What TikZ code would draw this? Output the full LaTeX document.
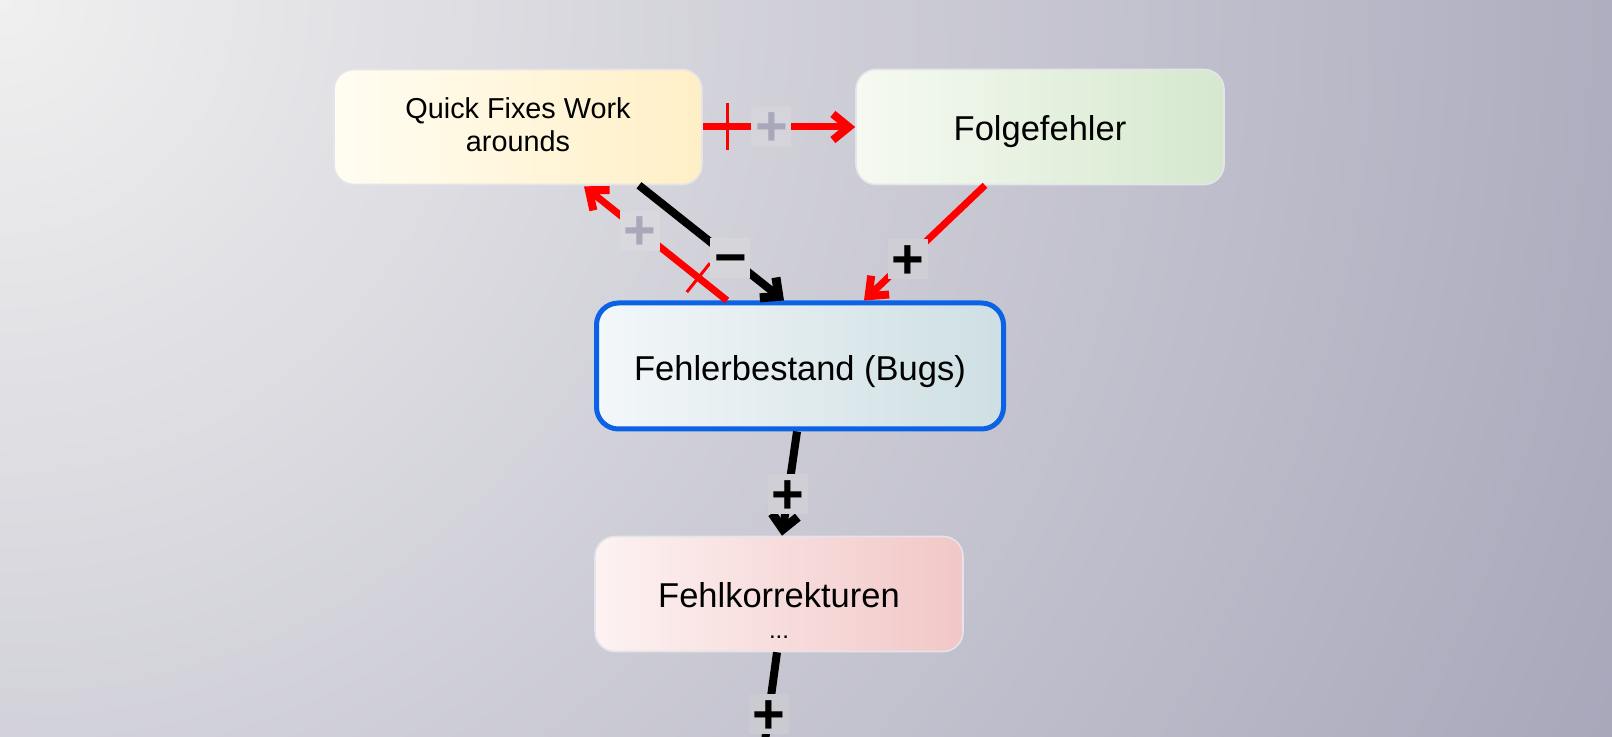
\documentclass[tikz,border=0pt]{standalone}
\usepackage{fontspec}
\setmainfont{Liberation Sans}
\usepackage{xcolor}
\usetikzlibrary{arrows.meta,calc}

\definecolor{bgLight}{HTML}{F0F0F0}
\definecolor{bgDark}{HTML}{A7A6BA}
\definecolor{qfL}{HTML}{FFFDF2}
\definecolor{qfR}{HTML}{FFEFC6}
\definecolor{foL}{HTML}{F6FAF2}
\definecolor{foR}{HTML}{D5E8CE}
\definecolor{fbL}{HTML}{F3F7F9}
\definecolor{fbR}{HTML}{CEDFE3}
\definecolor{fkL}{HTML}{FDF2F2}
\definecolor{fkR}{HTML}{F2C7C7}
\definecolor{stockBlue}{HTML}{0B62E4}
\definecolor{boxEdge}{HTML}{E4E4EA}
\definecolor{polGray}{HTML}{A9A8BB}
\definecolor{polA}{HTML}{D4D4DA}
\definecolor{polB}{HTML}{D8D8DD}
\definecolor{polC}{HTML}{D5D5DA}
\definecolor{polD}{HTML}{CECED4}
\definecolor{polE}{HTML}{CFCFD5}
\definecolor{polF}{HTML}{CACAD1}

\pgfdeclareradialshading{bgglow}{\pgfpoint{0bp}{0bp}}{color(0bp)=(bgLight); color(25bp)=(bgDark); color(50bp)=(bgDark)}

\begin{document}
\begin{tikzpicture}[
    x=0.5pt, y=-0.5pt,
    box/.style={rounded corners=10pt, minimum width=184pt, minimum height=57.5pt, draw=boxEdge, line width=0.8pt, inner sep=0pt, text height=17pt, text depth=3.5pt, font=\fontsize{17.25}{15.5}\selectfont},
    stock/.style={box, draw=stockBlue, line width=2.5pt, rounded corners=11pt, minimum width=203.5pt, minimum height=63pt, text height=18.5pt},
    redarr/.style={-{Straight Barb[length=8pt,width=13pt,line width=4pt]}, line width=3.5pt, red},
    blackarr/.style={-{Straight Barb[length=7pt,width=13pt,line width=4.5pt]}, line width=4pt, black},
    blackline/.style={line width=4pt, black},
    pol/.style={fill=#1, inner sep=0pt, minimum width=20pt, minimum height=20pt, text height=19pt, text depth=0pt, text=black, font=\fontsize{28}{28}\bfseries\selectfont},
    polgray/.style={pol=#1, text=polGray},
    cross/.style={fill=red, inner sep=0pt, minimum width=1.5pt, minimum height=#1, sloped}
]
\useasboundingbox (0,0) rectangle (1612,737);
\clip (0,0) rectangle (1612,737);
\shade[shading=bgglow] (0,0) circle (1800);

\node[box, left color=qfL, right color=qfR, text height=10pt, text depth=18pt] (qf) at (518,127)
    {\fontsize{14.4}{16.5}\selectfont\begin{tabular}[t]{@{}c@{}}Quick Fixes Work\\arounds\end{tabular}};
\node[box, left color=foL, right color=foR] (fo) at (1040,127) {Folgefehler};
\node[stock, left color=fbL, right color=fbR] (fb) at (800,366) {Fehlerbestand (Bugs)};
\node[box, left color=fkL, right color=fkR] (fk) at (779,594)
    {\begin{tabular}[t]{@{}c@{}}Fehlkorrekturen\\{\fontsize{12}{12}\selectfont ...}\end{tabular}};
\coordinate (fkout) at (757,800);

\draw[redarr] (qf) -- node[pos=0.16, cross=23.5pt] {} node[pos=0.45, polgray=polA] {+} (fo);
\draw[redarr] ($(fb.north)+(-73,0)$) -- node[pos=0.2, cross=18.5pt] {} node[pos=0.61, polgray=polB] {+} ($(qf.south)+(66,1)$);
\draw[blackarr] ($(qf.south)+(121,0)$) -- node[pos=0.63, pol=polC] {−} ($(fb.north)+(-16,0)$);
\draw[redarr] ($(fo.south)+(-55,0)$) -- node[pos=0.64, pol=polD] {+} ($(fb.north)+(64,0)$);
\draw[blackarr] ($(fb.south)+(-3,0)$) -- node[pos=0.6, pol=polE] {+} ($(fk.north)+(3,0)$);
\draw[blackline] ($(fk.south)+(-2,0)$) -- node[pos=0.42, pol=polF] {+} (fkout);
\end{tikzpicture}
\end{document}
